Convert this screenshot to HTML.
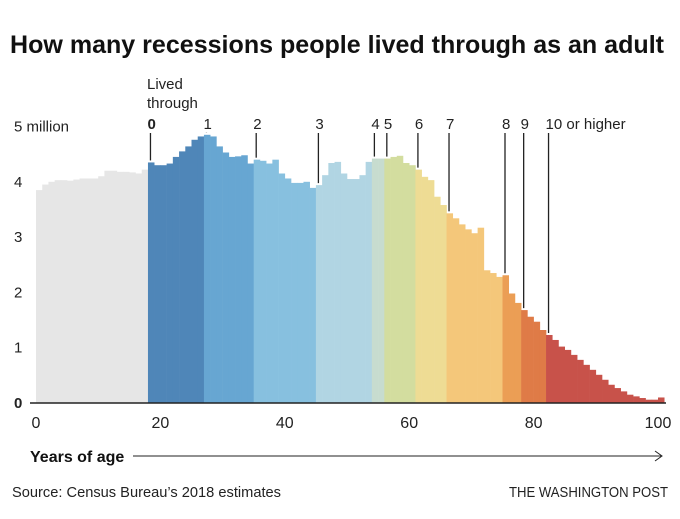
<!DOCTYPE html>
<html><head><meta charset="utf-8"><style>
body{margin:0;background:#fff;width:680px;height:519px;overflow:hidden}
svg{display:block}
text{font-family:"Liberation Sans Narrow","Liberation Sans",sans-serif;fill:#222}
</style></head><body>
<svg id="chart" width="680" height="519">
<text x="10" y="53" textLength="654" lengthAdjust="spacingAndGlyphs" style="font-family:'Liberation Sans',sans-serif;font-weight:bold;font-size:25px;fill:#111">How many recessions people lived through as an adult</text>
<g id="bars"></g>
<g id="annos"></g>
<g id="yaxis"></g>
<g id="xaxis"></g>
<line x1="30" y1="403" x2="666" y2="403" stroke="#222" stroke-width="1.5"/>
<text x="147" y="89" font-size="15">Lived</text>
<text x="147" y="108" font-size="15">through</text>
<text x="30" y="462" font-size="16" font-weight="bold" style="fill:#111">Years of age</text>
<line x1="133" y1="456" x2="661" y2="456" stroke="#222" stroke-width="1"/>
<path d="M655,451 L662,456 L655,461" fill="none" stroke="#222" stroke-width="1"/>
<text x="12" y="497" font-size="15" textLength="269" lengthAdjust="spacingAndGlyphs">Source: Census Bureau’s 2018 estimates</text>
<text x="509" y="497" font-size="15" textLength="159" lengthAdjust="spacingAndGlyphs">THE WASHINGTON POST</text>
</svg>
<script>
const ages=[];for(let a=0;a<=100;a++)ages.push(a);
const populationMillions=[3.85,3.95,4.0,4.03,4.03,4.02,4.04,4.06,4.06,4.06,4.1,4.2,4.2,4.18,4.18,4.17,4.15,4.22,
4.35,4.30,4.30,4.33,4.45,4.55,4.64,4.76,4.82,
4.85,4.82,4.64,4.53,4.45,4.46,4.48,4.33,
4.40,4.38,4.33,4.40,4.15,4.06,3.98,3.98,4.0,3.89,
3.94,4.12,4.34,4.36,4.15,4.05,4.05,4.12,4.36,
4.42,4.42,4.42,4.45,4.47,4.34,4.30,4.22,4.09,4.03,3.73,3.58,
3.43,3.34,3.23,3.14,3.07,3.17,2.40,2.35,2.28,
2.31,1.98,1.81,1.68,1.56,1.47,1.32,
1.23,1.14,1.02,0.96,0.87,0.78,0.69,0.60,0.51,0.42,0.33,0.27,0.21,0.15,0.12,0.09,0.06,0.06,0.1];
const groupStartAges=[0,18,27,35,45,54,56,61,66,75,78,82];
const groupLabels=["","0","1","2","3","4","5","6","7","8","9","10 or higher"];
const groupColors=["#e6e6e6","#4f86b8","#67a6d2","#87c0df","#b1d5e3","#c7dccf","#d3dd9f","#eedc94","#f4c77a","#eb9e55","#df7b47","#c8524a"];
const yTicks=[0,1,2,3,4,5];
const xTicks=[0,20,40,60,80,100];

const X0=36,BW=6.22,Y0=403,PY=55.3;
const xs=a=>X0+a*BW;
const ys=v=>Y0-v*PY;
const NS="http://www.w3.org/2000/svg";
function mk(t,attrs,parent){const e=document.createElementNS(NS,t);for(const k in attrs)e.setAttribute(k,attrs[k]);parent.appendChild(e);return e;}
function groupOf(a){let g=0;for(let i=0;i<groupStartAges.length;i++)if(a>=groupStartAges[i])g=i;return g;}
const bars=document.getElementById('bars');
ages.forEach((a,i)=>{
 const v=populationMillions[i];
 const r=mk('rect',{x:xs(a),y:ys(v),width:BW+0.3,height:Y0-ys(v),fill:groupColors[groupOf(a)]},bars);
 
 
});
const annos=document.getElementById('annos');
groupStartAges.forEach((a,g)=>{
 if(g===0)return;
 const x=xs(a)+2.5;
 const top=ys(populationMillions[a])-2;
 const l=mk('line',{x1:x,y1:133,x2:x,y2:top,stroke:'#222','stroke-width':1.3},annos);
 
 
 const t=mk('text',{x:x-3,y:129,'font-size':15},annos);
 if(g===1)t.setAttribute('font-weight','bold');
 t.textContent=groupLabels[g];
 
 
});
const yaxis=document.getElementById('yaxis');
yTicks.forEach(v=>{
 const t=mk('text',{x:14,y:ys(v)+5,'font-size':15},yaxis);
 if(v===0)t.setAttribute('font-weight','bold');
 t.textContent=v===5?'5 million':String(v);
 
 
});
const xaxis=document.getElementById('xaxis');
xTicks.forEach(a=>{
 const t=mk('text',{x:xs(a),y:428,'font-size':16,'text-anchor':'middle'},xaxis);
 t.textContent=String(a);
 
 
});
</script>
</body></html>
